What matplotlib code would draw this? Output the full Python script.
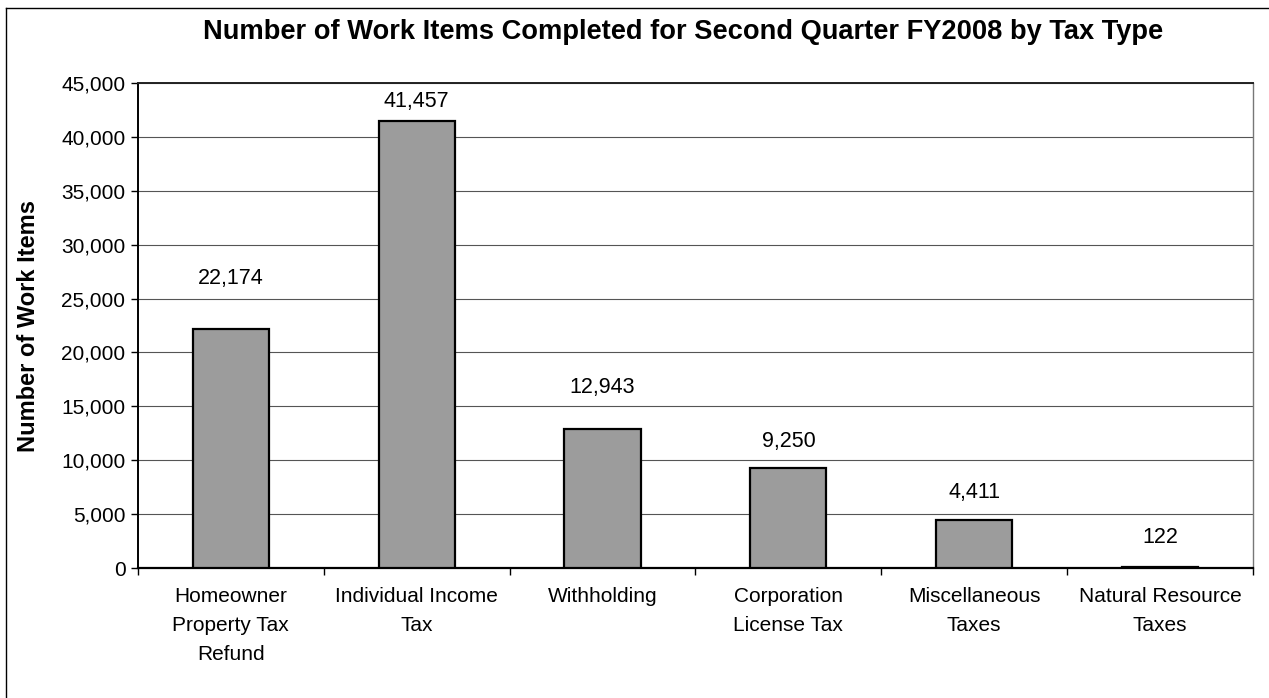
import numpy as np
import matplotlib.pyplot as plt
from matplotlib.lines import Line2D
from matplotlib.ticker import FuncFormatter

plt.rcParams['font.family'] = ['Liberation Sans', 'DejaVu Sans']

categories = ["Homeowner\nProperty Tax\nRefund", "Individual Income\nTax", "Withholding",
              "Corporation\nLicense Tax", "Miscellaneous\nTaxes", "Natural Resource\nTaxes"]
work_items = [22174, 41457, 12943, 9250, 4411, 122]

# label heights above each bar, in pixels
label_offsets = [51, 20, 41, 27, 28, 29]

fig = plt.figure(figsize=(12.69, 6.98), dpi=100)
ax = fig.add_axes([0.1087, 0.1862, 0.8787, 0.6949])

x = np.arange(len(categories))
ax.bar(x, work_items, width=0.41, color='#9c9c9c', edgecolor='black', linewidth=1.6, zorder=3)

for xi, v, off in zip(x, work_items, label_offsets):
    ax.annotate(f"{v:,}", (xi, v), xytext=(0, off), textcoords='offset pixels',
                ha='center', va='center', fontsize=15.5)

ax.set_xlim(-0.5, len(categories) - 0.5)
ax.set_ylim(0, 45000)
ax.set_yticks(np.arange(0, 45001, 5000))
ax.yaxis.set_major_formatter(FuncFormatter(lambda v, p: f"{int(v):,}"))
ax.tick_params(axis='y', labelsize=15, length=5, width=1, pad=4)
ax.grid(axis='y', color='#555555', linewidth=0.8, zorder=0)

# category labels between boundary ticks
ax.set_xticks(np.arange(-0.5, len(categories), 1.0))
ax.set_xticklabels([])
ax.set_xticks(x, minor=True)
ax.set_xticklabels(categories, minor=True, fontsize=15, linespacing=1.64)
ax.tick_params(axis='x', which='major', length=5, width=1)
ax.tick_params(axis='x', which='minor', length=0, pad=14)

ax.spines['left'].set_linewidth(1.4)
ax.spines['bottom'].set_linewidth(1.6)
ax.spines['top'].set_linewidth(1.4)
ax.spines['top'].set_color('#222222')
ax.spines['right'].set_color('#777777')
ax.spines['right'].set_linewidth(1.0)
ax.spines['right'].set_linestyle((0, (3, 1)))

ax.set_ylabel("Number of Work Items", fontsize=17, fontweight='bold', labelpad=15)

fig.text(0.538, 0.954, "Number of Work Items Completed for Second Quarter FY2008 by Tax Type",
         ha='center', va='center', fontsize=19.6, fontweight='bold')

# outer frame on left and top edges
fig.add_artist(Line2D([0.005, 0.005], [0.0, 0.989], color='black', linewidth=1.0))
fig.add_artist(Line2D([0.005, 1.0], [0.989, 0.989], color='black', linewidth=1.0))

fig.savefig("out.png", dpi=100)
